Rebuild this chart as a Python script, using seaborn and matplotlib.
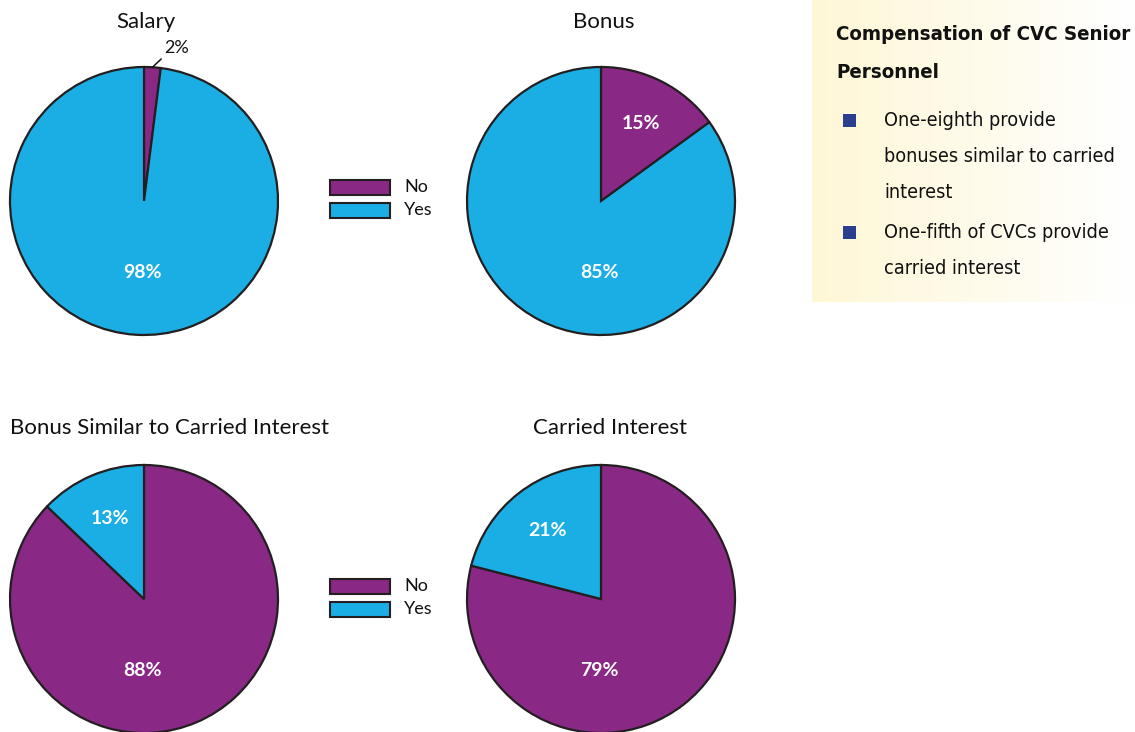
import numpy as np
import matplotlib
matplotlib.use("Agg")
import matplotlib.pyplot as plt
import seaborn as sns

# ---- data ----
categories = ["No", "Yes"]
salary = [2, 98]
bonus = [15, 85]
bonus_similar = [88, 13]
carried = [79, 21]
titles = ["Salary", "Bonus", "Bonus Similar to Carried Interest", "Carried Interest"]
box_title = ["Compensation of CVC Senior", "Personnel"]
box_bullets = [["One-eighth provide", "bonuses similar to carried", "interest"],
               ["One-fifth of CVCs provide", "carried interest"]]

sns.set_theme(style="white")
plt.rcParams['font.family'] = ['Lato', 'DejaVu Sans']

PURPLE = "#8A2886"
BLUE = "#1BAEE4"
EDGE = "#231F20"
colors = {"No": PURPLE, "Yes": BLUE}

W, H = 1135, 732
fig = plt.figure(figsize=(W / 100, H / 100), dpi=100)


def px_axes(cx, cy, r):
    return fig.add_axes([(cx - r) / W, (H - cy - r) / H, 2 * r / W, 2 * r / H])


def draw_pie(cx, cy, values, title, title_kw):
    ax = px_axes(cx, cy, 134)
    ax.pie(values, colors=[colors[c] for c in categories], startangle=90,
           counterclock=False, normalize=True,
           wedgeprops=dict(edgecolor=EDGE, linewidth=1.6))
    ax.set_xlim(-1.0, 1.0)
    ax.set_ylim(-1.0, 1.0)
    ax.set_axis_off()
    total = sum(values)
    start = 90.0
    for v in values:
        frac = v / total
        mid = start - frac * 180.0
        start -= frac * 360.0
        if frac > 0.5:
            ang, rr = -91.0, 0.53
        elif frac > 0.05:
            ang, rr = mid, 0.65
        else:
            a = np.deg2rad(mid)
            x0, y0 = np.cos(a) * 1.0, np.sin(a) * 1.0
            ax.annotate(f"{v}%", xy=(x0, y0), xytext=(x0 + 0.09, y0 + 0.085),
                        fontsize=13, color="#111111", ha="left", va="bottom",
                        annotation_clip=False,
                        arrowprops=dict(arrowstyle="-", color="#111111", lw=1.1,
                                        shrinkA=0, shrinkB=0,
                                        relpos=(0.0, 0.0)))
            continue
        a = np.deg2rad(ang)
        ax.text(rr * np.cos(a), rr * np.sin(a), f"{v}%", color="white",
                fontsize=14, fontweight="bold", ha="center", va="center")
    fig.text(title_kw["x"] / W, 1 - title_kw["y"] / H, title, fontsize=16,
             ha=title_kw["ha"], va="center", color="#111111")
    return ax


draw_pie(144, 201, salary, titles[0], dict(x=146, y=22, ha="center"))
draw_pie(601, 201, bonus, titles[1], dict(x=604, y=22, ha="center"))
draw_pie(144, 599, bonus_similar, titles[2], dict(x=10, y=428, ha="left"))
draw_pie(601, 599, carried, titles[3], dict(x=610, y=428, ha="center"))

# legends
for ly in (187, 586):
    for i, c in enumerate(categories):
        y = ly + i * 23
        fig.patches.append(plt.Rectangle((330 / W, (H - y - 8) / H), 60 / W, 15 / H,
                                         transform=fig.transFigure, facecolor=colors[c],
                                         edgecolor=EDGE, linewidth=1.5))
        fig.text(404 / W, 1 - y / H, c, fontsize=13, va="center", ha="left",
                 color="#111111")

# text box with gradient
bx0, bx1, by0, by1 = 812, 1135, 0, 302
grad = np.linspace(0, 1, 256)[None, :]
cmap = matplotlib.colors.LinearSegmentedColormap.from_list("g", ["#FEF7D6", "#FFFFFF"])
bax = fig.add_axes([bx0 / W, (H - by1) / H, (bx1 - bx0) / W, (by1 - by0) / H])
bax.imshow(grad, aspect="auto", cmap=cmap, extent=[0, 1, 0, 1])
bax.set_axis_off()

for i, line in enumerate(box_title):
    fig.text(836 / W, 1 - (34 + i * 38) / H, line, fontsize=14.7, fontweight="bold",
             fontstretch="condensed", family=['DejaVu Sans'],
             va="center", ha="left", color="#111111")

bullet_start = [120, 232]
for by, lines in zip(bullet_start, box_bullets):
    fig.patches.append(plt.Rectangle((843 / W, (H - by - 7) / H), 13 / W, 13 / H,
                                     transform=fig.transFigure, facecolor="#2B3F8F",
                                     edgecolor="none"))
    for j, line in enumerate(lines):
        fig.text(884 / W, 1 - (by + j * 36.5) / H, line, fontsize=14.2,
                 fontstretch="condensed", family=['DejaVu Sans'],
                 va="center", ha="left", color="#111111")

fig.savefig("out.png", dpi=100)
